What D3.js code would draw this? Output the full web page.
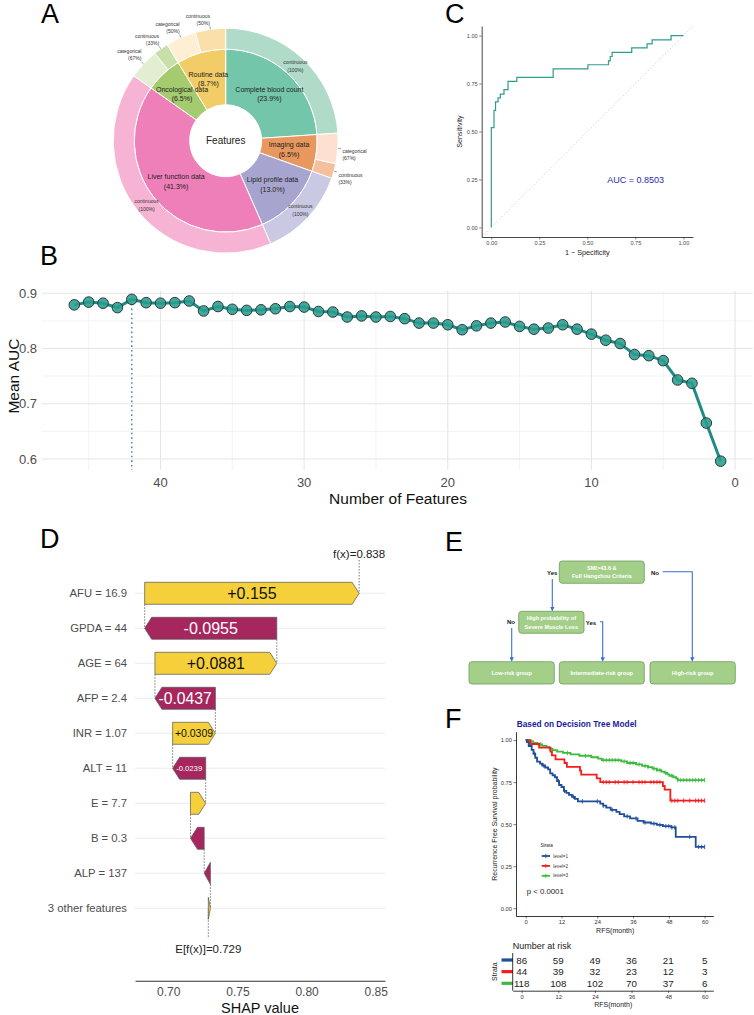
<!DOCTYPE html>
<html>
<head>
<meta charset="utf-8">
<script src="https://cdn.jsdelivr.net/npm/d3@7"></script>
<style>
body { margin: 0; background: #fff; }
text { font-family: "Liberation Sans", Arial, sans-serif; }
</style>
</head>
<body>
<div id="fig"></div>
<script>
// ---------- data ----------
// A: feature groups (inner ring) and their variable types (outer ring)
var groupNames = ["Complete blood count", "Imaging data", "Lipid profile data", "Liver function data", "Oncological data", "Routine data"];
var groupPct = [23.9, 6.5, 13.0, 41.3, 6.5, 8.7];
var subGroup = ["Complete blood count", "Imaging data", "Imaging data", "Lipid profile data", "Liver function data", "Oncological data", "Oncological data", "Routine data", "Routine data"];
var subType = ["continuous", "categorical", "continuous", "continuous", "continuous", "categorical", "continuous", "categorical", "continuous"];
var subPct = [100, 67, 33, 100, 100, 67, 33, 50, 50];

// B: mean AUC by number of features
var nFeatures = [46, 45, 44, 43, 42, 41, 40, 39, 38, 37, 36, 35, 34, 33, 32, 31, 30, 29, 28, 27, 26, 25, 24, 23, 22, 21, 20, 19, 18, 17, 16, 15, 14, 13, 12, 11, 10, 9, 8, 7, 6, 5, 4, 3, 2, 1];
var meanAuc = [0.879, 0.884, 0.882, 0.874, 0.889, 0.883, 0.882, 0.883, 0.886, 0.868, 0.876, 0.871, 0.869, 0.870, 0.872, 0.876, 0.875, 0.867, 0.866, 0.857, 0.859, 0.857, 0.858, 0.854, 0.846, 0.846, 0.843, 0.834, 0.841, 0.846, 0.848, 0.840, 0.835, 0.837, 0.843, 0.835, 0.826, 0.815, 0.809, 0.789, 0.787, 0.778, 0.743, 0.737, 0.665, 0.596];
var bestN = 42;

// C: ROC curve vertices
var rocFpr = [0, 0, 0.014, 0.022, 0.035, 0.047, 0.066, 0.087, 0.133, 0.322, 0.503, 0.61, 0.619, 0.629, 0.731, 0.811, 0.837, 0.936, 1];
var rocTpr = [0, 0.52, 0.61, 0.654, 0.675, 0.695, 0.718, 0.761, 0.782, 0.827, 0.848, 0.868, 0.891, 0.913, 0.936, 0.957, 0.978, 1, 1];
var aucText = "AUC = 0.8503";

// D: SHAP waterfall
var shapFeature = ["AFU = 16.9", "GPDA = 44", "AGE = 64", "AFP = 2.4", "INR = 1.07", "ALT = 11", "E = 7.7", "B = 0.3", "ALP = 137", "3 other features"];
var shapValue = [0.155, -0.0955, 0.0881, -0.0437, 0.0309, -0.0239, 0.011, -0.0099, -0.0045, 0.0015];
var shapLabel = ["+0.155", "-0.0955", "+0.0881", "-0.0437", "+0.0309", "-0.0239", "", "", "", ""];
var shapBase = 0.729;
var shapTicks = [0.70, 0.75, 0.80, 0.85];

// E: decision tree boxes
var treeText = [["SMI>43.6 &", "Full Hangzhou Criteria"], ["High probability of", "Severe Muscle Loss"], ["Low-risk group"], ["Intermediate-risk group"], ["High-risk group"]];

// F: Kaplan-Meier steps (time in months, survival after the step)
var km1Time = [0, 0.4, 1, 2, 2.6, 3.2, 3.8, 4.8, 5.5, 6.5, 7.5, 8.2, 9, 9.8, 10.5, 11.2, 12, 12.8, 13.6, 14.5, 15.5, 16.5, 17.5, 25, 26, 27, 28.5, 30.4, 31.5, 33, 35, 37.5, 39.5, 42, 44, 46, 48.8, 50.3, 57];
var km1Surv = [1, 0.988, 0.965, 0.942, 0.919, 0.895, 0.872, 0.86, 0.849, 0.837, 0.826, 0.802, 0.791, 0.779, 0.756, 0.733, 0.721, 0.698, 0.686, 0.674, 0.663, 0.651, 0.636, 0.622, 0.61, 0.598, 0.585, 0.573, 0.56, 0.547, 0.534, 0.52, 0.51, 0.503, 0.496, 0.488, 0.481, 0.425, 0.365];
var km2Time = [0, 1.5, 4.5, 8.3, 8.8, 10, 13, 13.8, 18.2, 18.6, 23.8, 25, 46, 46.6, 48.5];
var km2Surv = [1, 0.977, 0.955, 0.932, 0.909, 0.886, 0.864, 0.841, 0.818, 0.795, 0.773, 0.75, 0.727, 0.705, 0.64];
var km3Time = [0, 1, 2.5, 4, 5.5, 7, 8, 9, 10.5, 12.5, 15, 18, 22, 24.3, 25.5, 32, 34, 37, 39, 41, 42.5, 44, 45.5, 46.5, 47.5, 48.2, 49.5, 50.5, 51];
var km3Surv = [1, 0.992, 0.983, 0.975, 0.966, 0.958, 0.949, 0.941, 0.932, 0.924, 0.915, 0.907, 0.898, 0.89, 0.881, 0.873, 0.864, 0.856, 0.847, 0.839, 0.83, 0.822, 0.813, 0.805, 0.796, 0.788, 0.779, 0.771, 0.762];
var km1Censor = [3, 6, 11, 13, 16, 19, 24, 26, 29, 34, 37, 40, 43, 45, 47, 48, 49, 50, 55, 58, 59, 60];
var km2Censor = [26, 27, 28, 30, 31, 33, 34, 36, 38, 39, 40, 42, 43, 44, 45, 49, 50, 51, 53, 55, 57, 58, 59, 60];
var km3Censor = [2, 5, 8, 14, 20, 26, 27, 28, 29, 30, 31, 33, 35, 36, 38, 40, 41, 43, 44, 45, 47, 49, 51, 52, 53, 54, 55, 56, 57, 58, 59, 60];
var strataNames = ["level=1", "level=2", "level=3"];
var riskTimes = [0, 12, 24, 36, 48, 60];
var risk1 = [86, 59, 49, 36, 21, 5];
var risk2 = [44, 39, 32, 23, 12, 3];
var risk3 = [118, 108, 102, 70, 37, 6];

// ---------- setup ----------
var W = 754, H = 1015;
var svg = d3.select("#fig").append("svg").attr("width", W).attr("height", H);
svg.append("rect").attr("width", W).attr("height", H).attr("fill", "#fff");

function styleAxis(g, size, color) {
  g.attr("font-family", "Liberation Sans, Arial, sans-serif");
  g.selectAll("text").attr("font-size", size).attr("fill", color);
}

// panel letters
[["A", 41, 23], ["B", 40, 265], ["C", 445, 23], ["D", 40, 548], ["E", 445, 551], ["F", 445, 728]].forEach(function(l) {
  svg.append("text").attr("x", l[1]).attr("y", l[2]).attr("font-size", 27).attr("fill", "#000").text(l[0]);
});

// ---------- A: nested donut ----------
var innerColor = {
  "Complete blood count": "#74c6aa", "Imaging data": "#e8985e", "Lipid profile data": "#a7a5cf",
  "Liver function data": "#ef7fb8", "Oncological data": "#a4cb6e", "Routine data": "#f2cc66"
};
var outerColor = {
  "Complete blood count": { continuous: "#b1dbc9" },
  "Imaging data": { categorical: "#fde0cf", continuous: "#f6c09f" },
  "Lipid profile data": { continuous: "#cac9e4" },
  "Liver function data": { continuous: "#f7b3d3" },
  "Oncological data": { categorical: "#e2edd2", continuous: "#c6e0a7" },
  "Routine data": { categorical: "#feeed4", continuous: "#fbdfa9" }
};

var gA = svg.append("g").attr("transform", "translate(225.7,140.7)");
var pie = d3.pie().sort(null).value(d => d.v);
var innerData = pie(groupNames.map((n, i) => ({ name: n, pct: groupPct[i], v: groupPct[i] })));
var outerData = pie(subType.map((t, i) => ({
  group: subGroup[i], type: t, pct: subPct[i],
  v: groupPct[groupNames.indexOf(subGroup[i])] * subPct[i] / 100
})));
var arcIn = d3.arc().innerRadius(36).outerRadius(91.5);
var arcOut = d3.arc().innerRadius(91.5).outerRadius(112.5);

gA.selectAll("path.inner").data(innerData).enter().append("path")
  .attr("class", "inner").attr("d", arcIn)
  .attr("fill", d => innerColor[d.data.name]).attr("stroke", "#fff").attr("stroke-width", 1);
gA.selectAll("path.outer").data(outerData).enter().append("path")
  .attr("class", "outer").attr("d", arcOut)
  .attr("fill", d => outerColor[d.data.group][d.data.type]).attr("stroke", "#fff").attr("stroke-width", 1);

gA.append("text").attr("text-anchor", "middle").attr("y", 3.5).attr("font-size", 10).attr("fill", "#222").text("Features");

innerData.forEach(function(d) {
  var a = (d.startAngle + d.endAngle) / 2, r = 64;
  var x = r * Math.sin(a), y = -r * Math.cos(a);
  var t = gA.append("text").attr("text-anchor", "middle").attr("font-size", 7).attr("fill", "#222");
  t.append("tspan").attr("x", x).attr("y", y - 2.2).text(d.data.name);
  t.append("tspan").attr("x", x).attr("y", y + 7.4).text("(" + d.data.pct.toFixed(1) + "%)");
});

outerData.forEach(function(d) {
  var a = (d.startAngle + d.endAngle) / 2;
  var t = gA.append("text").attr("font-size", 5).attr("fill", "#333");
  if (d.data.pct === 100) {
    var x = 102 * Math.sin(a), y = -102 * Math.cos(a);
    t.attr("text-anchor", "middle");
    t.append("tspan").attr("x", x).attr("y", y - 1.9).text(d.data.type);
    t.append("tspan").attr("x", x).attr("y", y + 5.5).text("(" + d.data.pct + "%)");
  } else {
    var xs = 112.5 * Math.sin(a), ys = -112.5 * Math.cos(a);
    var xl = 115.5 * Math.sin(a), yl = -115.5 * Math.cos(a);
    gA.append("line").attr("x1", xs).attr("y1", ys).attr("x2", xl).attr("y2", yl)
      .attr("stroke", "#444").attr("stroke-width", 0.5);
    if (xl < 0) {
      t.attr("text-anchor", "end");
      t.append("tspan").attr("x", xl).attr("y", yl - 8.5).text(d.data.type);
      t.append("tspan").attr("x", xl).attr("y", yl - 1.7).text("(" + d.data.pct + "%)");
    } else {
      t.attr("text-anchor", "start");
      t.append("tspan").attr("x", xl + 1.5).attr("y", yl + 4.8).text(d.data.type);
      t.append("tspan").attr("x", xl + 1.5).attr("y", yl + 11.8).text("(" + d.data.pct + "%)");
    }
  }
});

// ---------- C: ROC ----------
var xC = d3.scaleLinear().domain([-0.05, 1.05]).range([481.7, 693]);
var yC = d3.scaleLinear().domain([-0.05, 1.05]).range([237, 26]);

svg.append("line")
  .attr("x1", xC(-0.05)).attr("y1", yC(-0.05)).attr("x2", xC(1.05)).attr("y2", yC(1.05))
  .attr("stroke", "#cccccc").attr("stroke-width", 0.8).attr("stroke-dasharray", "1.5,2");

var rocLine = d3.line().x(d => xC(d[0])).y(d => yC(d[1])).curve(d3.curveStepAfter);
svg.append("path").datum(d3.zip(rocFpr, rocTpr)).attr("d", rocLine)
  .attr("fill", "none").attr("stroke", "#2f9c90").attr("stroke-width", 1.2);

var gCx = svg.append("g").attr("transform", "translate(0,237)")
  .call(d3.axisBottom(xC).tickValues([0, 0.25, 0.5, 0.75, 1]).tickFormat(d3.format(".2f")).tickSize(2.5).tickSizeOuter(0).tickPadding(2));
var gCy = svg.append("g").attr("transform", "translate(481.7,0)")
  .call(d3.axisLeft(yC).tickValues([0, 0.25, 0.5, 0.75, 1]).tickFormat(d3.format(".2f")).tickSize(2.5).tickSizeOuter(0).tickPadding(1.5));
[gCx, gCy].forEach(function(g) {
  styleAxis(g, 5.6, "#4d4d4d");
  g.select(".domain").attr("stroke", "#333").attr("stroke-width", 0.9);
  g.selectAll(".tick line").attr("stroke", "#333").attr("stroke-width", 0.6);
});
svg.append("text").attr("transform", "translate(461.5," + yC(0.5) + ") rotate(-90)")
  .attr("text-anchor", "middle").attr("font-size", 7.2).attr("fill", "#222").text("Sensitivity");
svg.append("text").attr("x", xC(0.5)).attr("y", 254.8)
  .attr("text-anchor", "middle").attr("font-size", 7.2).attr("fill", "#222").text("1 \u2212 Specificity");
svg.append("text").attr("x", 635.7).attr("y", 183)
  .attr("text-anchor", "middle").attr("font-size", 9).attr("fill", "#2b2ba6").text(aucText);

// ---------- B: AUC vs number of features ----------
var xB = d3.scaleLinear().domain([48.25, -1.25]).range([42, 753]);
var yB = d3.scaleLinear().domain([0.58, 0.905]).range([470, 290.5]);
var gB = svg.append("g");

[45, 35, 25, 15, 5].forEach(function(v) {
  gB.append("line").attr("x1", xB(v)).attr("x2", xB(v)).attr("y1", 290.5).attr("y2", 470)
    .attr("stroke", "#f0f0f0").attr("stroke-width", 0.8);
});
[0.65, 0.75, 0.85].forEach(function(v) {
  gB.append("line").attr("x1", 42).attr("x2", 753).attr("y1", yB(v)).attr("y2", yB(v))
    .attr("stroke", "#f0f0f0").attr("stroke-width", 0.8);
});
[40, 30, 20, 10, 0].forEach(function(v) {
  gB.append("line").attr("x1", xB(v)).attr("x2", xB(v)).attr("y1", 290.5).attr("y2", 470)
    .attr("stroke", "#e6e6e6").attr("stroke-width", 1.1);
});
[0.6, 0.7, 0.8, 0.9].forEach(function(v) {
  gB.append("line").attr("x1", 42).attr("x2", 753).attr("y1", yB(v)).attr("y2", yB(v))
    .attr("stroke", "#e6e6e6").attr("stroke-width", 1.1);
});

var bestIdx = nFeatures.indexOf(bestN);
gB.append("line").attr("x1", xB(bestN)).attr("x2", xB(bestN)).attr("y1", yB(meanAuc[bestIdx])).attr("y2", 470)
  .attr("stroke", "#4a86c0").attr("stroke-width", 1.5).attr("stroke-dasharray", "1.6,3");

var aucPts = d3.zip(nFeatures, meanAuc);
gB.append("path").datum(aucPts)
  .attr("d", d3.line().x(d => xB(d[0])).y(d => yB(d[1])))
  .attr("fill", "none").attr("stroke", "#1e8c83").attr("stroke-width", 3);
gB.selectAll("circle").data(aucPts).enter().append("circle")
  .attr("cx", d => xB(d[0])).attr("cy", d => yB(d[1])).attr("r", 5.3)
  .attr("fill", "#2a9d8f").attr("fill-opacity", 0.88)
  .attr("stroke", "#2d3a3a").attr("stroke-width", 1);

[0.6, 0.7, 0.8, 0.9].forEach(function(v) {
  gB.append("text").attr("x", 37).attr("y", yB(v) + 4.6).attr("text-anchor", "end")
    .attr("font-size", 13).attr("fill", "#4d4d4d").text(v.toFixed(1));
});
[40, 30, 20, 10, 0].forEach(function(v) {
  gB.append("text").attr("x", xB(v)).attr("y", 486.5).attr("text-anchor", "middle")
    .attr("font-size", 13).attr("fill", "#4d4d4d").text(v);
});
gB.append("text").attr("transform", "translate(18.5," + yB(0.75) + ") rotate(-90)")
  .attr("text-anchor", "middle").attr("font-size", 15.5).attr("fill", "#111").text("Mean AUC");
gB.append("text").attr("x", 398).attr("y", 504).attr("text-anchor", "middle")
  .attr("font-size", 15.5).attr("fill", "#111").text("Number of Features");

// ---------- D: SHAP waterfall ----------
var xD = d3.scaleLinear().domain([0.676, 0.8567]).range([135, 385]);
var yD = d3.scalePoint().domain(shapFeature).range([593.3, 908.3]);
var gD = svg.append("g");
var nRows = shapFeature.length;
var starts = [], ends = [];
var acc = shapBase;
for (var i = nRows - 1; i >= 0; i--) {
  starts[i] = acc;
  acc += shapValue[i];
  ends[i] = acc;
}
var barH = 22, half = barH / 2;

shapFeature.forEach(function(f) {
  gD.append("line").attr("x1", 135).attr("x2", 385).attr("y1", yD(f)).attr("y2", yD(f))
    .attr("stroke", "#ebebeb").attr("stroke-width", 1.1);
  gD.append("text").attr("x", 127).attr("y", yD(f) + 4).attr("text-anchor", "end")
    .attr("font-size", 11.3).attr("fill", "#4d4d4d").text(f);
});

function dotted(x, y1, y2) {
  gD.append("line").attr("x1", x).attr("x2", x).attr("y1", y1).attr("y2", y2)
    .attr("stroke", "#555").attr("stroke-width", 0.8).attr("stroke-dasharray", "1.5,1.5");
}
for (var k = 0; k < nRows - 1; k++) {
  dotted(xD(starts[k]), yD(shapFeature[k]) + half, yD(shapFeature[k + 1]));
}
dotted(xD(ends[0]), 560, yD(shapFeature[0]));
dotted(xD(shapBase), yD(shapFeature[nRows - 1]), 938);

shapFeature.forEach(function(f, i) {
  var x0 = xD(starts[i]), x1 = xD(ends[i]), yc = yD(f);
  var w = Math.abs(x1 - x0), a = Math.min(7, w), dir = x1 > x0 ? 1 : -1;
  var pts = [[x0, yc - half], [x1 - dir * a, yc - half], [x1, yc], [x1 - dir * a, yc + half], [x0, yc + half]];
  gD.append("polygon").attr("points", pts.map(p => p.join(",")).join(" "))
    .attr("fill", dir > 0 ? "#f5d03a" : "#a6275d").attr("stroke", "#555").attr("stroke-width", 0.7);
  if (shapLabel[i]) {
    var fs = Math.min(16, (w - a) / 3.4);
    gD.append("text").attr("x", (x0 + x1) / 2).attr("y", yc + fs * 0.36)
      .attr("text-anchor", "middle").attr("font-size", fs)
      .attr("fill", dir > 0 ? "#111" : "#fff").text(shapLabel[i]);
  }
});

gD.append("text").attr("x", xD(ends[0])).attr("y", 557.5).attr("text-anchor", "middle")
  .attr("font-size", 11.5).attr("fill", "#222").text("f(x)=" + ends[0].toFixed(3));
gD.append("text").attr("x", xD(shapBase)).attr("y", 953).attr("text-anchor", "middle")
  .attr("font-size", 11.5).attr("fill", "#222").text("E[f(x)]=" + shapBase.toFixed(3));

var gDx = svg.append("g").attr("transform", "translate(0,980.7)")
  .call(d3.axisBottom(xD).tickValues(shapTicks).tickFormat(d3.format(".2f")).tickSize(0).tickSizeOuter(0).tickPadding(7));
styleAxis(gDx, 12, "#4d4d4d");
gDx.select(".domain").attr("stroke", "#333").attr("stroke-width", 1.1);
svg.append("text").attr("x", 260).attr("y", 1013).attr("text-anchor", "middle")
  .attr("font-size", 14.5).attr("fill", "#111").text("SHAP value");

// ---------- E: decision tree ----------
var gE = svg.append("g");
var treeBoxes = [[559.3, 561, 85, 22.3], [518.7, 611.3, 65.3, 22], [469, 661.7, 85.3, 22.3], [559.3, 661.7, 85, 22.3], [650, 661.7, 85.3, 22.3]];
var defs = svg.append("defs");
defs.append("marker").attr("id", "arr").attr("viewBox", "0 0 6 6").attr("refX", 5).attr("refY", 3)
  .attr("markerWidth", 4).attr("markerHeight", 4).attr("orient", "auto")
  .append("path").attr("d", "M0,0 L6,3 L0,6 Z").attr("fill", "#3a6fd8");

treeBoxes.forEach(function(b, i) {
  gE.append("rect").attr("x", b[0]).attr("y", b[1]).attr("width", b[2]).attr("height", b[3])
    .attr("rx", 3).attr("fill", "#a3cf89").attr("stroke", "#6f9c5d").attr("stroke-width", 0.8);
  var lines = treeText[i], cx = b[0] + b[2] / 2, cy = b[1] + b[3] / 2;
  lines.forEach(function(s, j) {
    var yy = lines.length === 1 ? cy + 2 : cy - 4.2 + j * 8.4 + 2;
    gE.append("text").attr("x", cx).attr("y", yy).attr("text-anchor", "middle")
      .attr("font-family", "Liberation Serif, Times New Roman, serif").attr("font-weight", "bold")
      .attr("font-size", 5.6).attr("fill", "#fff").text(s);
  });
});
["M552.3,579 V610.5", "M662.7,571.7 H692.3 V660.8", "M511.7,628 V660.8", "M600,621.7 H602.7 V660.8"].forEach(function(p) {
  gE.append("path").attr("d", p).attr("fill", "none").attr("stroke", "#3a6fd8")
    .attr("stroke-width", 1.1).attr("marker-end", "url(#arr)");
});
[["Yes", 552.3, 574.5], ["No", 655, 574.5], ["No", 511, 623.9], ["Yes", 591, 624.9]].forEach(function(l) {
  gE.append("text").attr("x", l[1]).attr("y", l[2]).attr("text-anchor", "middle")
    .attr("font-family", "Liberation Serif, Times New Roman, serif").attr("font-weight", "bold")
    .attr("font-size", 6).attr("fill", "#111").text(l[0]);
});

// ---------- F: Kaplan-Meier ----------
var xF = d3.scaleLinear().domain([-3.26, 62.9]).range([516, 713.3]);
var yF = d3.scaleLinear().domain([-0.046, 1.05]).range([916, 731.7]);
var kmColors = ["#1f4f9a", "#f21d1d", "#3dba3d"];
var kmTimes = [km1Time, km2Time, km3Time];
var kmSurvs = [km1Surv, km2Surv, km3Surv];
var kmCensors = [km1Censor, km2Censor, km3Censor];
var gF = svg.append("g");

function survAt(times, surv, t) {
  var s = surv[0];
  for (var j = 0; j < times.length; j++) { if (times[j] <= t) s = surv[j]; }
  return s;
}

var kmLine = d3.line().x(d => xF(d[0])).y(d => yF(d[1])).curve(d3.curveStepAfter);
[2, 1, 0].forEach(function(s) {
  var pts = d3.zip(kmTimes[s], kmSurvs[s]);
  pts.push([60, kmSurvs[s][kmSurvs[s].length - 1]]);
  gF.append("path").datum(pts).attr("d", kmLine)
    .attr("fill", "none").attr("stroke", kmColors[s]).attr("stroke-width", 1.8);
  kmCensors[s].forEach(function(t) {
    var cx = xF(t), cy = yF(survAt(kmTimes[s], kmSurvs[s], t));
    gF.append("line").attr("x1", cx).attr("x2", cx).attr("y1", cy - 2.2).attr("y2", cy + 2.2)
      .attr("stroke", kmColors[s]).attr("stroke-width", 0.9);
  });
});

var gFx = svg.append("g").attr("transform", "translate(0,916)")
  .call(d3.axisBottom(xF).tickValues(riskTimes).tickSize(2.5).tickSizeOuter(0).tickPadding(1.5));
var gFy = svg.append("g").attr("transform", "translate(516,0)")
  .call(d3.axisLeft(yF).tickValues([0, 0.25, 0.5, 0.75, 1]).tickFormat(d3.format(".2f")).tickSize(2.5).tickSizeOuter(0).tickPadding(1.5));
[gFx, gFy].forEach(function(g) {
  styleAxis(g, 5.8, "#333");
  g.select(".domain").attr("stroke", "#222").attr("stroke-width", 0.9);
  g.selectAll(".tick line").attr("stroke", "#222").attr("stroke-width", 0.6);
});
svg.append("text").attr("x", xF(30)).attr("y", 932.5).attr("text-anchor", "middle")
  .attr("font-size", 7).attr("fill", "#222").text("RFS(month)");
svg.append("text").attr("transform", "translate(496.5," + yF(0.5) + ") rotate(-90)")
  .attr("text-anchor", "middle").attr("font-size", 7).attr("fill", "#222").text("Recurrence Free Survival probability");
svg.append("text").attr("x", 516.7).attr("y", 727).attr("font-size", 8.3).attr("font-weight", "bold")
  .attr("fill", "#1a1aa0").text("Based on Decision Tree Model");
svg.append("text").attr("x", 526.7).attr("y", 894).attr("font-size", 7.8).attr("fill", "#222").text("p < 0.0001");

// legend inside plot
svg.append("text").attr("x", 540.5).attr("y", 846.5).attr("font-size", 4.6).attr("fill", "#222").text("Strata");
strataNames.forEach(function(n, i) {
  var ly = 856 + i * 9.9;
  svg.append("line").attr("x1", 541.7).attr("x2", 550).attr("y1", ly).attr("y2", ly)
    .attr("stroke", kmColors[i]).attr("stroke-width", 1.8);
  svg.append("line").attr("x1", 545.8).attr("x2", 545.8).attr("y1", ly - 2).attr("y2", ly + 2)
    .attr("stroke", kmColors[i]).attr("stroke-width", 0.9);
  svg.append("text").attr("x", 553.3).attr("y", ly + 1.6).attr("font-size", 4.6).attr("fill", "#333").text(n);
});

// risk table
var xT = d3.scaleLinear().domain([-2.95, 62.8]).range([512.7, 713.3]);
svg.append("text").attr("x", 512.7).attr("y", 949).attr("font-size", 9).attr("fill", "#222").text("Number at risk");
var riskRows = [risk1, risk2, risk3];
riskRows.forEach(function(row, i) {
  var ry = 960 + i * 11.65;
  svg.append("line").attr("x1", 501.5).attr("x2", 513).attr("y1", ry).attr("y2", ry)
    .attr("stroke", kmColors[i]).attr("stroke-width", 3.2);
  row.forEach(function(v, j) {
    svg.append("text").attr("x", xT(riskTimes[j])).attr("y", ry + 3.6).attr("text-anchor", "middle")
      .attr("font-size", 9.8).attr("fill", "#222").text(v);
  });
});
var gTx = svg.append("g").attr("transform", "translate(0,990.7)")
  .call(d3.axisBottom(xT).tickValues(riskTimes).tickSize(2.5).tickSizeOuter(0).tickPadding(1.5));
styleAxis(gTx, 5.8, "#333");
gTx.select(".domain").attr("stroke", "#222").attr("stroke-width", 0.9);
gTx.selectAll(".tick line").attr("stroke", "#222").attr("stroke-width", 0.6);
svg.append("line").attr("x1", 512.7).attr("x2", 512.7).attr("y1", 953).attr("y2", 990.7)
  .attr("stroke", "#222").attr("stroke-width", 0.9);
svg.append("text").attr("x", xT(30)).attr("y", 1006.5).attr("text-anchor", "middle")
  .attr("font-size", 7).attr("fill", "#222").text("RFS(month)");
svg.append("text").attr("transform", "translate(496.5,971.7) rotate(-90)")
  .attr("text-anchor", "middle").attr("font-size", 7).attr("fill", "#222").text("Strata");
</script>
</body>
</html>
